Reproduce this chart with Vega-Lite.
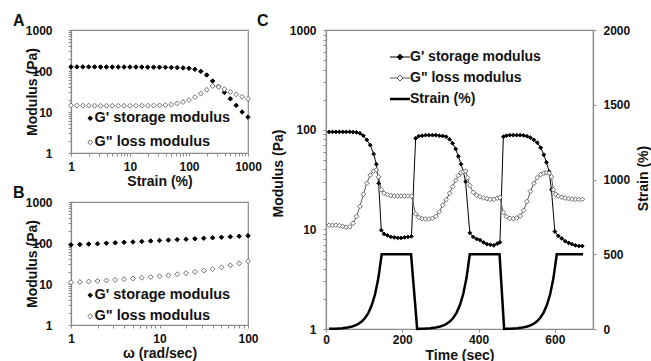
{
  "$schema": "https://vega.github.io/schema/vega-lite/v6.json",
  "background": "white",
  "padding": {"left": 12, "top": 12, "right": 0, "bottom": 0},
  "config": {
    "font": "Liberation Sans",
    "view": {"stroke": "#8a8a8a", "strokeWidth": 1.2},
    "axis": {"labelFont": "Liberation Sans", "labelFontSize": 12, "labelFontWeight": "bold", "labelColor": "#111111", "titleFont": "Liberation Sans", "titleFontSize": 14, "titleFontWeight": "bold", "titleColor": "#111111", "grid": false, "domainColor": "#8a8a8a", "domainWidth": 1.2, "tickColor": "#8a8a8a", "tickSize": 3},
    "legend": {"labelFont": "Liberation Sans", "labelFontSize": 14.5, "labelFontWeight": "bold", "labelColor": "#111111", "padding": 0, "labelLimit": 300},
    "title": {"font": "Liberation Sans", "fontSize": 16, "fontWeight": "bold", "anchor": "start", "frame": "group", "color": "#111111"}
  },
  "datasets": {
    "aData": [
      {"x":1,"s":"G' storage modulus","v":126},{"x":1.259,"s":"G' storage modulus","v":126},{"x":1.585,"s":"G' storage modulus","v":126},{"x":1.995,"s":"G' storage modulus","v":126},{"x":2.512,"s":"G' storage modulus","v":126},{"x":3.162,"s":"G' storage modulus","v":125},{"x":3.981,"s":"G' storage modulus","v":125},{"x":5.012,"s":"G' storage modulus","v":125},{"x":6.31,"s":"G' storage modulus","v":125},{"x":7.943,"s":"G' storage modulus","v":125},{"x":10,"s":"G' storage modulus","v":125},{"x":12.59,"s":"G' storage modulus","v":125},{"x":15.85,"s":"G' storage modulus","v":125},{"x":19.95,"s":"G' storage modulus","v":124},{"x":25.12,"s":"G' storage modulus","v":124},{"x":31.62,"s":"G' storage modulus","v":124},{"x":39.81,"s":"G' storage modulus","v":123},{"x":50.12,"s":"G' storage modulus","v":122},{"x":63.1,"s":"G' storage modulus","v":121},{"x":79.43,"s":"G' storage modulus","v":119},{"x":100,"s":"G' storage modulus","v":116},{"x":125.9,"s":"G' storage modulus","v":110},{"x":158.5,"s":"G' storage modulus","v":98},{"x":199.5,"s":"G' storage modulus","v":80},{"x":251.2,"s":"G' storage modulus","v":57},{"x":316.2,"s":"G' storage modulus","v":42},{"x":398.1,"s":"G' storage modulus","v":30},{"x":501.2,"s":"G' storage modulus","v":21},{"x":631,"s":"G' storage modulus","v":14.5},{"x":794.3,"s":"G' storage modulus","v":10},{"x":1000,"s":"G' storage modulus","v":7.5},
      {"x":1,"s":"G\" loss modulus","v":14.5},{"x":1.259,"s":"G\" loss modulus","v":14.4},{"x":1.585,"s":"G\" loss modulus","v":14.3},{"x":1.995,"s":"G\" loss modulus","v":14.3},{"x":2.512,"s":"G\" loss modulus","v":14.2},{"x":3.162,"s":"G\" loss modulus","v":14.2},{"x":3.981,"s":"G\" loss modulus","v":14.2},{"x":5.012,"s":"G\" loss modulus","v":14.2},{"x":6.31,"s":"G\" loss modulus","v":14.2},{"x":7.943,"s":"G\" loss modulus","v":14.2},{"x":10,"s":"G\" loss modulus","v":14.2},{"x":12.59,"s":"G\" loss modulus","v":14.2},{"x":15.85,"s":"G\" loss modulus","v":14.3},{"x":19.95,"s":"G\" loss modulus","v":14.3},{"x":25.12,"s":"G\" loss modulus","v":14.4},{"x":31.62,"s":"G\" loss modulus","v":14.5},{"x":39.81,"s":"G\" loss modulus","v":14.7},{"x":50.12,"s":"G\" loss modulus","v":15.2},{"x":63.1,"s":"G\" loss modulus","v":16.2},{"x":79.43,"s":"G\" loss modulus","v":17.5},{"x":100,"s":"G\" loss modulus","v":19.5},{"x":125.9,"s":"G\" loss modulus","v":23},{"x":158.5,"s":"G\" loss modulus","v":28},{"x":199.5,"s":"G\" loss modulus","v":35},{"x":251.2,"s":"G\" loss modulus","v":43},{"x":316.2,"s":"G\" loss modulus","v":41},{"x":398.1,"s":"G\" loss modulus","v":36},{"x":501.2,"s":"G\" loss modulus","v":31},{"x":631,"s":"G\" loss modulus","v":27},{"x":794.3,"s":"G\" loss modulus","v":23.5},{"x":1000,"s":"G\" loss modulus","v":21}
    ],
    "bData": [
      {"x":1,"s":"G' storage modulus","v":90},{"x":1.259,"s":"G' storage modulus","v":92},{"x":1.585,"s":"G' storage modulus","v":94},{"x":1.995,"s":"G' storage modulus","v":96},{"x":2.512,"s":"G' storage modulus","v":99},{"x":3.162,"s":"G' storage modulus","v":101},{"x":3.981,"s":"G' storage modulus","v":104},{"x":5.012,"s":"G' storage modulus","v":106},{"x":6.31,"s":"G' storage modulus","v":109},{"x":7.943,"s":"G' storage modulus","v":112},{"x":10,"s":"G' storage modulus","v":115},{"x":12.59,"s":"G' storage modulus","v":118},{"x":15.85,"s":"G' storage modulus","v":121},{"x":19.95,"s":"G' storage modulus","v":124},{"x":25.12,"s":"G' storage modulus","v":127},{"x":31.62,"s":"G' storage modulus","v":131},{"x":39.81,"s":"G' storage modulus","v":134},{"x":50.12,"s":"G' storage modulus","v":138},{"x":63.1,"s":"G' storage modulus","v":142},{"x":79.43,"s":"G' storage modulus","v":146},{"x":100,"s":"G' storage modulus","v":150},
      {"x":1,"s":"G\" loss modulus","v":11},{"x":1.259,"s":"G\" loss modulus","v":11.2},{"x":1.585,"s":"G\" loss modulus","v":11.5},{"x":1.995,"s":"G\" loss modulus","v":11.8},{"x":2.512,"s":"G\" loss modulus","v":12.2},{"x":3.162,"s":"G\" loss modulus","v":12.6},{"x":3.981,"s":"G\" loss modulus","v":13.1},{"x":5.012,"s":"G\" loss modulus","v":13.6},{"x":6.31,"s":"G\" loss modulus","v":14.2},{"x":7.943,"s":"G\" loss modulus","v":14.8},{"x":10,"s":"G\" loss modulus","v":15.5},{"x":12.59,"s":"G\" loss modulus","v":16.3},{"x":15.85,"s":"G\" loss modulus","v":17.3},{"x":19.95,"s":"G\" loss modulus","v":18.4},{"x":25.12,"s":"G\" loss modulus","v":19.7},{"x":31.62,"s":"G\" loss modulus","v":21.2},{"x":39.81,"s":"G\" loss modulus","v":23},{"x":50.12,"s":"G\" loss modulus","v":25.5},{"x":63.1,"s":"G\" loss modulus","v":28.5},{"x":79.43,"s":"G\" loss modulus","v":32},{"x":100,"s":"G\" loss modulus","v":36}
    ],
    "gmod": [
      {"t":8,"s":"G' storage modulus","v":95},{"t":17,"s":"G' storage modulus","v":95},{"t":26,"s":"G' storage modulus","v":95},{"t":35,"s":"G' storage modulus","v":95},{"t":44,"s":"G' storage modulus","v":95},{"t":53,"s":"G' storage modulus","v":95},{"t":62,"s":"G' storage modulus","v":95},{"t":71,"s":"G' storage modulus","v":94.5},{"t":80,"s":"G' storage modulus","v":94},{"t":89,"s":"G' storage modulus","v":92},{"t":98,"s":"G' storage modulus","v":87},{"t":107,"s":"G' storage modulus","v":79},{"t":116,"s":"G' storage modulus","v":70},{"t":125,"s":"G' storage modulus","v":57},{"t":132,"s":"G' storage modulus","v":45},{"t":138,"s":"G' storage modulus","v":29},{"t":145,"s":"G' storage modulus","v":9.8},{"t":152,"s":"G' storage modulus","v":9.0},{"t":161,"s":"G' storage modulus","v":8.7},{"t":170,"s":"G' storage modulus","v":8.4},{"t":179,"s":"G' storage modulus","v":8.3},{"t":188,"s":"G' storage modulus","v":8.2},{"t":197,"s":"G' storage modulus","v":8.2},{"t":206,"s":"G' storage modulus","v":8.3},{"t":215,"s":"G' storage modulus","v":8.4},{"t":224,"s":"G' storage modulus","v":8.5},
      {"t":235,"s":"G' storage modulus","v":82},{"t":243,"s":"G' storage modulus","v":86},{"t":252,"s":"G' storage modulus","v":87},{"t":261,"s":"G' storage modulus","v":88},{"t":270,"s":"G' storage modulus","v":88},{"t":279,"s":"G' storage modulus","v":88},{"t":288,"s":"G' storage modulus","v":88},{"t":297,"s":"G' storage modulus","v":87},{"t":306,"s":"G' storage modulus","v":86.5},{"t":315,"s":"G' storage modulus","v":85},{"t":324,"s":"G' storage modulus","v":80},{"t":332,"s":"G' storage modulus","v":73},{"t":340,"s":"G' storage modulus","v":64},{"t":347,"s":"G' storage modulus","v":54},{"t":354,"s":"G' storage modulus","v":45},{"t":360,"s":"G' storage modulus","v":38},{"t":366,"s":"G' storage modulus","v":30},{"t":377,"s":"G' storage modulus","v":9.2},{"t":386,"s":"G' storage modulus","v":8.4},{"t":395,"s":"G' storage modulus","v":8.0},{"t":404,"s":"G' storage modulus","v":7.8},{"t":413,"s":"G' storage modulus","v":7.4},{"t":422,"s":"G' storage modulus","v":7.1},{"t":431,"s":"G' storage modulus","v":7.0},{"t":440,"s":"G' storage modulus","v":6.9},{"t":449,"s":"G' storage modulus","v":7.2},{"t":456,"s":"G' storage modulus","v":7.4},
      {"t":465,"s":"G' storage modulus","v":85},{"t":473,"s":"G' storage modulus","v":87},{"t":482,"s":"G' storage modulus","v":88},{"t":491,"s":"G' storage modulus","v":88},{"t":500,"s":"G' storage modulus","v":88},{"t":509,"s":"G' storage modulus","v":88},{"t":518,"s":"G' storage modulus","v":87.5},{"t":527,"s":"G' storage modulus","v":86},{"t":536,"s":"G' storage modulus","v":83},{"t":545,"s":"G' storage modulus","v":79},{"t":554,"s":"G' storage modulus","v":74},{"t":563,"s":"G' storage modulus","v":66},{"t":571,"s":"G' storage modulus","v":56},{"t":578,"s":"G' storage modulus","v":47},{"t":585,"s":"G' storage modulus","v":38},{"t":591,"s":"G' storage modulus","v":25},{"t":600,"s":"G' storage modulus","v":9.5},{"t":609,"s":"G' storage modulus","v":8.6},{"t":618,"s":"G' storage modulus","v":8.1},{"t":627,"s":"G' storage modulus","v":7.6},{"t":636,"s":"G' storage modulus","v":7.3},{"t":645,"s":"G' storage modulus","v":7.1},{"t":654,"s":"G' storage modulus","v":6.9},{"t":663,"s":"G' storage modulus","v":6.8},{"t":672,"s":"G' storage modulus","v":6.8},
      {"t":8,"s":"G\" loss modulus","v":11},{"t":17,"s":"G\" loss modulus","v":11},{"t":26,"s":"G\" loss modulus","v":11},{"t":35,"s":"G\" loss modulus","v":10.9},{"t":44,"s":"G\" loss modulus","v":10.7},{"t":53,"s":"G\" loss modulus","v":10.5},{"t":62,"s":"G\" loss modulus","v":10.6},{"t":71,"s":"G\" loss modulus","v":11.5},{"t":80,"s":"G\" loss modulus","v":13.5},{"t":89,"s":"G\" loss modulus","v":17},{"t":98,"s":"G\" loss modulus","v":22.5},{"t":107,"s":"G\" loss modulus","v":29},{"t":116,"s":"G\" loss modulus","v":35},{"t":125,"s":"G\" loss modulus","v":38.5},{"t":132,"s":"G\" loss modulus","v":39.4},{"t":138,"s":"G\" loss modulus","v":33.6},{"t":145,"s":"G\" loss modulus","v":25},{"t":152,"s":"G\" loss modulus","v":23},{"t":161,"s":"G\" loss modulus","v":22.3},{"t":170,"s":"G\" loss modulus","v":21.8},{"t":179,"s":"G\" loss modulus","v":21.6},{"t":188,"s":"G\" loss modulus","v":21.6},{"t":197,"s":"G\" loss modulus","v":21.6},{"t":206,"s":"G\" loss modulus","v":21.6},{"t":215,"s":"G\" loss modulus","v":21.6},{"t":224,"s":"G\" loss modulus","v":21.5},
      {"t":235,"s":"G\" loss modulus","v":14.3},{"t":243,"s":"G\" loss modulus","v":13.2},{"t":252,"s":"G\" loss modulus","v":12.8},{"t":261,"s":"G\" loss modulus","v":12.7},{"t":270,"s":"G\" loss modulus","v":12.7},{"t":279,"s":"G\" loss modulus","v":12.9},{"t":288,"s":"G\" loss modulus","v":13.5},{"t":297,"s":"G\" loss modulus","v":15},{"t":306,"s":"G\" loss modulus","v":17.5},{"t":315,"s":"G\" loss modulus","v":19.8},{"t":324,"s":"G\" loss modulus","v":23},{"t":332,"s":"G\" loss modulus","v":26.8},{"t":340,"s":"G\" loss modulus","v":31},{"t":347,"s":"G\" loss modulus","v":34.5},{"t":354,"s":"G\" loss modulus","v":37},{"t":360,"s":"G\" loss modulus","v":38},{"t":366,"s":"G\" loss modulus","v":38.4},{"t":371,"s":"G\" loss modulus","v":33},{"t":377,"s":"G\" loss modulus","v":27.5},{"t":386,"s":"G\" loss modulus","v":23.5},{"t":395,"s":"G\" loss modulus","v":22},{"t":404,"s":"G\" loss modulus","v":21.2},{"t":413,"s":"G\" loss modulus","v":20.7},{"t":422,"s":"G\" loss modulus","v":20.3},{"t":431,"s":"G\" loss modulus","v":20},{"t":440,"s":"G\" loss modulus","v":20},{"t":449,"s":"G\" loss modulus","v":20.5},{"t":456,"s":"G\" loss modulus","v":20.9},
      {"t":465,"s":"G\" loss modulus","v":14.8},{"t":473,"s":"G\" loss modulus","v":13.4},{"t":482,"s":"G\" loss modulus","v":12.9},{"t":491,"s":"G\" loss modulus","v":12.8},{"t":500,"s":"G\" loss modulus","v":13},{"t":509,"s":"G\" loss modulus","v":13.6},{"t":518,"s":"G\" loss modulus","v":15.5},{"t":527,"s":"G\" loss modulus","v":19},{"t":536,"s":"G\" loss modulus","v":24},{"t":545,"s":"G\" loss modulus","v":29},{"t":554,"s":"G\" loss modulus","v":33},{"t":563,"s":"G\" loss modulus","v":35.5},{"t":571,"s":"G\" loss modulus","v":36.6},{"t":578,"s":"G\" loss modulus","v":37},{"t":585,"s":"G\" loss modulus","v":36.6},{"t":591,"s":"G\" loss modulus","v":33.6},{"t":596,"s":"G\" loss modulus","v":25},{"t":602,"s":"G\" loss modulus","v":22.5},{"t":609,"s":"G\" loss modulus","v":21.6},{"t":618,"s":"G\" loss modulus","v":21},{"t":627,"s":"G\" loss modulus","v":20.6},{"t":636,"s":"G\" loss modulus","v":20.3},{"t":645,"s":"G\" loss modulus","v":20.1},{"t":654,"s":"G\" loss modulus","v":20},{"t":663,"s":"G\" loss modulus","v":20},{"t":672,"s":"G\" loss modulus","v":20}
    ],
    "strain": [
      {"t":8,"st":1.1},{"t":16.6,"st":1.7},{"t":25.3,"st":2.4},{"t":33.9,"st":3.6},{"t":42.5,"st":5.2},{"t":51.1,"st":7.6},{"t":59.8,"st":11.3},{"t":68.4,"st":16.5},{"t":77,"st":24},{"t":85.6,"st":35},{"t":94.3,"st":51.4},{"t":102.9,"st":75},{"t":111.5,"st":110},{"t":120.1,"st":160},{"t":128.8,"st":234},{"t":137.4,"st":342},{"t":146,"st":500},{"t":223,"st":500},{"t":239,"st":1},
      {"t":247.6,"st":1.7},{"t":256.3,"st":2.4},{"t":264.9,"st":3.6},{"t":273.5,"st":5.2},{"t":282.1,"st":7.6},{"t":290.8,"st":11.3},{"t":299.4,"st":16.5},{"t":308,"st":24},{"t":316.6,"st":35},{"t":325.3,"st":51.4},{"t":333.9,"st":75},{"t":342.5,"st":110},{"t":351.1,"st":160},{"t":359.8,"st":234},{"t":368.4,"st":342},{"t":377,"st":500},{"t":455,"st":500},{"t":467,"st":1},
      {"t":475.6,"st":1.7},{"t":484.3,"st":2.4},{"t":492.9,"st":3.6},{"t":501.5,"st":5.2},{"t":510.1,"st":7.6},{"t":518.8,"st":11.3},{"t":527.4,"st":16.5},{"t":536,"st":24},{"t":544.6,"st":35},{"t":553.3,"st":51.4},{"t":561.9,"st":75},{"t":570.5,"st":110},{"t":579.1,"st":160},{"t":587.8,"st":234},{"t":596.4,"st":342},{"t":605,"st":500},{"t":674,"st":500}
    ]
  },
  "spacing": -6,
  "resolve": {"scale": {"color": "independent", "fill": "independent", "stroke": "independent", "size": "independent"}, "legend": {"color": "independent", "fill": "independent", "stroke": "independent", "size": "independent"}},
  "hconcat": [
    {
      "spacing": 49,
      "bounds": "flush",
      "resolve": {"scale": {"color": "independent", "fill": "independent", "stroke": "independent", "size": "independent"}, "legend": {"color": "independent", "fill": "independent", "stroke": "independent", "size": "independent"}},
      "vconcat": [
        {
          "title": {"text": "A", "dx": -58, "offset": -5},
          "width": 177, "height": 123,
          "data": {"name": "aData"},
          "mark": {"type": "point", "shape": "diamond", "filled": true, "opacity": 1, "strokeWidth": 1},
          "encoding": {
            "x": {"field": "x", "type": "quantitative", "title": "Strain (%)", "scale": {"type": "log", "domain": [1, 1000]},
              "axis": {"values": [1,2,3,4,5,6,7,8,9,10,20,30,40,50,60,70,80,90,100,200,300,400,500,600,700,800,900,1000], "format": "d", "labelExpr": "indexof([1,10,100,1000], datum.value) >= 0 ? datum.label : ''", "labelFlush": false, "labelOverlap": false, "labelPadding": 5, "titlePadding": 2}},
            "y": {"field": "v", "type": "quantitative", "title": "Modulus (Pa)", "scale": {"type": "log", "domain": [1, 1000]},
              "axis": {"values": [1,2,3,4,5,6,7,8,9,10,20,30,40,50,60,70,80,90,100,200,300,400,500,600,700,800,900,1000], "format": "d", "labelExpr": "indexof([1,10,100,1000], datum.value) >= 0 ? datum.label : ''", "labelOverlap": false, "labelPadding": 16, "titleX": -32, "titleY": 61.5, "titleBaseline": "bottom"}},
            "fill": {"field": "s", "type": "nominal", "scale": {"domain": ["G' storage modulus", "G\" loss modulus"], "range": ["#000000", "#ffffff"]},
              "legend": {"title": null, "orient": "none", "legendX": 12, "legendY": 81, "symbolType": "diamond", "labelOffset": -3, "rowPadding": 9, "symbolStrokeWidth": 1, "symbolOpacity": 1}},
            "stroke": {"field": "s", "type": "nominal", "scale": {"domain": ["G' storage modulus", "G\" loss modulus"], "range": ["#000000", "#6e6e6e"]},
              "legend": {"title": null, "orient": "none", "legendX": 12, "legendY": 81, "symbolType": "diamond", "labelOffset": -3, "rowPadding": 9, "symbolStrokeWidth": 1, "symbolOpacity": 1}},
            "size": {"field": "s", "type": "nominal", "scale": {"domain": ["G' storage modulus", "G\" loss modulus"], "range": [20, 24]},
              "legend": {"title": null, "orient": "none", "legendX": 12, "legendY": 81, "symbolType": "diamond", "labelOffset": -3, "rowPadding": 9, "symbolStrokeWidth": 1, "symbolOpacity": 1}}
          }
        },
        {
          "title": {"text": "B", "dx": -58, "offset": -5},
          "width": 177, "height": 123,
          "data": {"name": "bData"},
          "mark": {"type": "point", "shape": "diamond", "filled": true, "opacity": 1, "strokeWidth": 1},
          "encoding": {
            "x": {"field": "x", "type": "quantitative", "title": "ω (rad/sec)", "scale": {"type": "log", "domain": [1, 100]},
              "axis": {"values": [1,2,3,4,5,6,7,8,9,10,20,30,40,50,60,70,80,90,100], "format": "d", "labelExpr": "indexof([1,10,100], datum.value) >= 0 ? datum.label : ''", "labelFlush": false, "labelOverlap": false, "labelPadding": 5, "titlePadding": 2}},
            "y": {"field": "v", "type": "quantitative", "title": "Modulus (Pa)", "scale": {"type": "log", "domain": [1, 1000]},
              "axis": {"values": [1,2,3,4,5,6,7,8,9,10,20,30,40,50,60,70,80,90,100,200,300,400,500,600,700,800,900,1000], "format": "d", "labelExpr": "indexof([1,10,100,1000], datum.value) >= 0 ? datum.label : ''", "labelOverlap": false, "labelPadding": 16, "titleX": -32, "titleY": 61.5, "titleBaseline": "bottom"}},
            "fill": {"field": "s", "type": "nominal", "scale": {"domain": ["G' storage modulus", "G\" loss modulus"], "range": ["#000000", "#ffffff"]},
              "legend": {"title": null, "orient": "none", "legendX": 12, "legendY": 86, "symbolType": "diamond", "labelOffset": -3, "rowPadding": 6, "symbolStrokeWidth": 1, "symbolOpacity": 1}},
            "stroke": {"field": "s", "type": "nominal", "scale": {"domain": ["G' storage modulus", "G\" loss modulus"], "range": ["#000000", "#6e6e6e"]},
              "legend": {"title": null, "orient": "none", "legendX": 12, "legendY": 86, "symbolType": "diamond", "labelOffset": -3, "rowPadding": 6, "symbolStrokeWidth": 1, "symbolOpacity": 1}},
            "size": {"field": "s", "type": "nominal", "scale": {"domain": ["G' storage modulus", "G\" loss modulus"], "range": [20, 24]},
              "legend": {"title": null, "orient": "none", "legendX": 12, "legendY": 86, "symbolType": "diamond", "labelOffset": -3, "rowPadding": 6, "symbolStrokeWidth": 1, "symbolOpacity": 1}}
          }
        }
      ]
    },
    {
      "title": {"text": "C", "dx": -69, "offset": -5},
      "width": 267, "height": 299,
      "layer": [
        {
          "data": {"name": "gmod"},
          "layer": [
            {
              "mark": {"type": "line", "strokeWidth": 1},
              "encoding": {
                "x": {"field": "t", "type": "quantitative", "title": "Time (sec)", "scale": {"domain": [0, 700]}, "axis": {"values": [0, 200, 400, 600], "labelFlush": false, "labelPadding": 2, "titlePadding": 3}},
                "y": {"field": "v", "type": "quantitative", "title": "Modulus (Pa)", "scale": {"type": "log", "domain": [1, 1000]},
                  "axis": {"values": [1,2,3,4,5,6,7,8,9,10,20,30,40,50,60,70,80,90,100,200,300,400,500,600,700,800,900,1000], "format": "d", "labelExpr": "indexof([1,10,100,1000], datum.value) >= 0 ? datum.label : ''", "labelOverlap": false, "labelPadding": 7, "titleX": -41, "titleY": 143, "titleBaseline": "bottom"}},
                "color": {"field": "s", "type": "nominal", "scale": {"domain": ["G' storage modulus", "G\" loss modulus", "Strain (%)"], "range": ["#000000", "#5a5a5a", "#000000"]},
                  "legend": {"title": null, "orient": "none", "legendX": 67, "legendY": 20, "symbolSize": 400, "labelOffset": 3, "rowPadding": 7, "labelFontSize": 14,
                    "encode": {"symbols": {"update": {
                      "shape": {"signal": "datum.index === 0 ? 'M-1,0L1,0M0,-0.28L0.28,0L0,0.28L-0.28,0Z' : datum.index === 1 ? 'M-1,0L-0.3,0M0.3,0L1,0M0,-0.3L0.3,0L0,0.3L-0.3,0Z' : 'M-1,0L1,0'"},
                      "fill": {"signal": "datum.index === 0 ? '#000000' : datum.index === 1 ? '#ffffff' : 'transparent'"},
                      "stroke": {"signal": "datum.index === 1 ? '#5a5a5a' : '#000000'"},
                      "strokeWidth": {"signal": "datum.index === 2 ? 2.5 : 1"},
                      "opacity": {"value": 1}}}}}}
              }
            },
            {
              "mark": {"type": "point", "shape": "diamond", "filled": true, "opacity": 1, "strokeWidth": 1},
              "encoding": {
                "x": {"field": "t", "type": "quantitative", "title": "Time (sec)", "scale": {"domain": [0, 700]}, "axis": {"values": [0, 200, 400, 600], "labelFlush": false, "labelPadding": 2, "titlePadding": 3}},
                "y": {"field": "v", "type": "quantitative", "title": "Modulus (Pa)", "scale": {"type": "log", "domain": [1, 1000]},
                  "axis": {"values": [1,2,3,4,5,6,7,8,9,10,20,30,40,50,60,70,80,90,100,200,300,400,500,600,700,800,900,1000], "format": "d", "labelExpr": "indexof([1,10,100,1000], datum.value) >= 0 ? datum.label : ''", "labelOverlap": false, "labelPadding": 7, "titleX": -41, "titleY": 143, "titleBaseline": "bottom"}},
                "fill": {"field": "s", "type": "nominal", "scale": {"domain": ["G' storage modulus", "G\" loss modulus"], "range": ["#000000", "#ffffff"]}, "legend": null},
                "stroke": {"field": "s", "type": "nominal", "scale": {"domain": ["G' storage modulus", "G\" loss modulus"], "range": ["#000000", "#6e6e6e"]}, "legend": null},
                "size": {"field": "s", "type": "nominal", "scale": {"domain": ["G' storage modulus", "G\" loss modulus"], "range": [14, 22]}, "legend": null}
              }
            }
          ]
        },
        {
          "data": {"name": "strain"},
          "mark": {"type": "line", "strokeWidth": 2.5},
          "encoding": {
            "x": {"field": "t", "type": "quantitative", "title": "Time (sec)", "scale": {"domain": [0, 700]}, "axis": {"values": [0, 200, 400, 600], "labelFlush": false, "labelPadding": 2, "titlePadding": 3}},
            "y": {"field": "st", "type": "quantitative", "title": "Strain (%)", "scale": {"domain": [0, 2000]},
              "axis": {"orient": "right", "values": [0, 500, 1000, 1500, 2000], "format": "d", "labelPadding": 7, "titleAngle": 270, "titleBaseline": "top", "titleX": 43, "titleY": 148}},
            "color": {"datum": "Strain (%)", "type": "nominal"}
          }
        }
      ],
      "resolve": {"scale": {"y": "independent"}}
    }
  ]
}
